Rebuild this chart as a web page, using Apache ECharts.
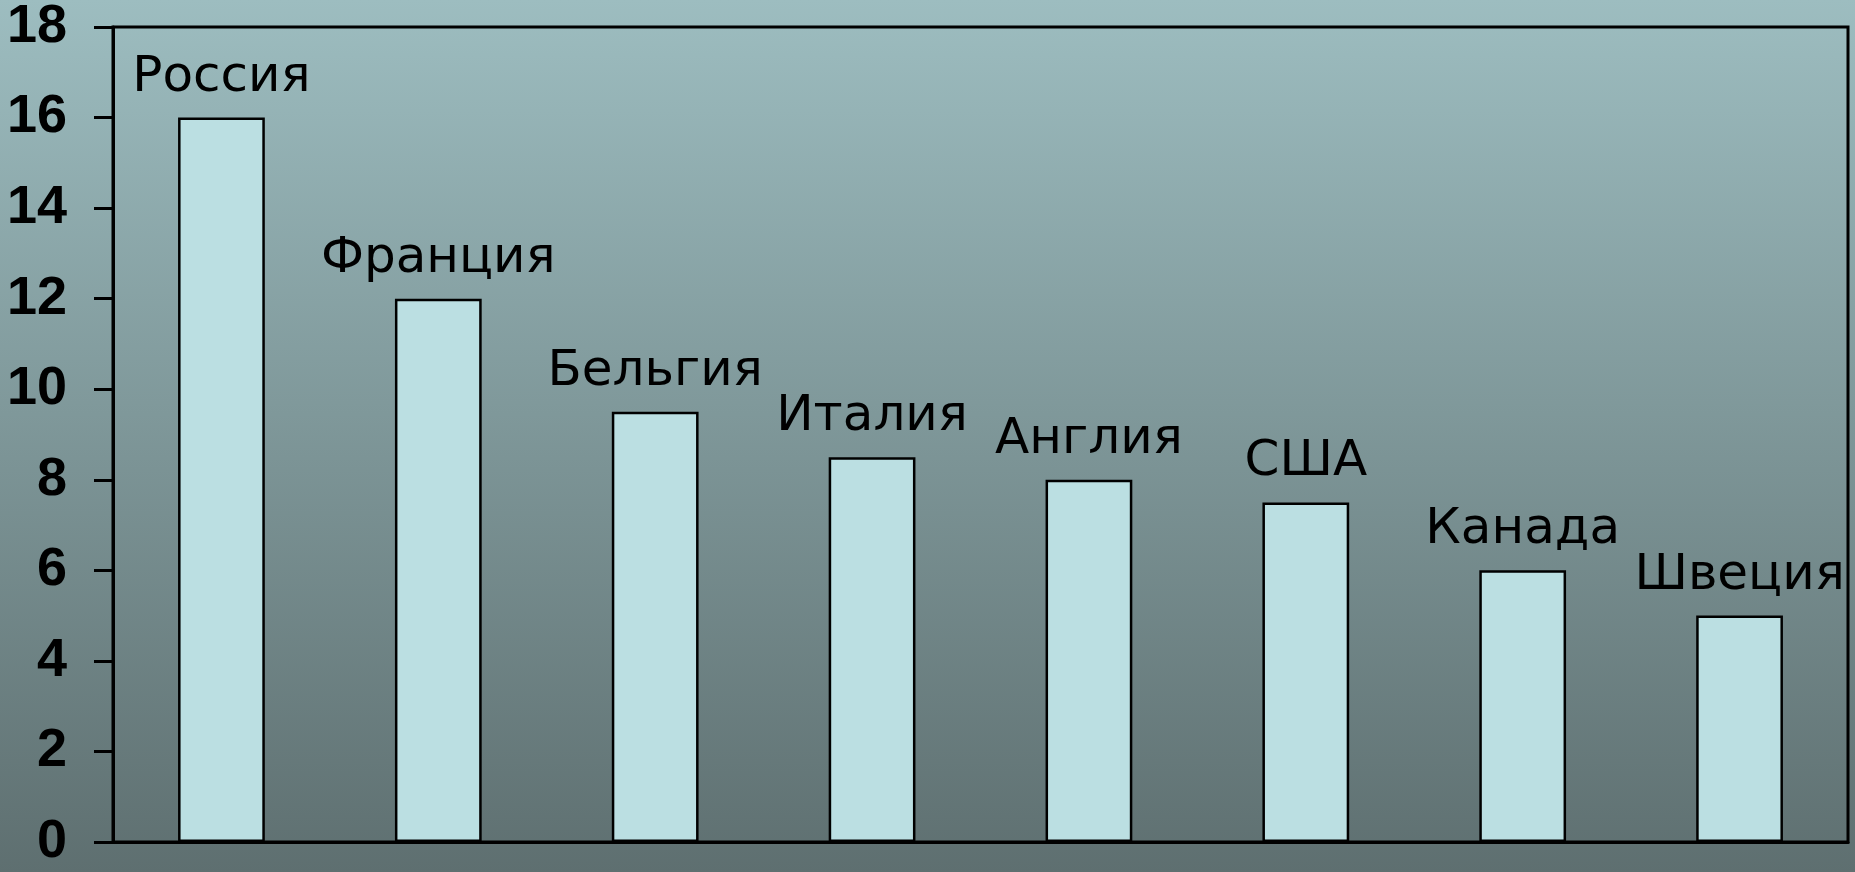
<!DOCTYPE html>
<html>
<head>
<meta charset="utf-8">
<script src="https://cdn.jsdelivr.net/npm/echarts@6/dist/echarts.min.js"></script>
<style>html,body{margin:0;padding:0;}#c{width:1855px;height:872px;}</style>
</head>
<body>
<div id="c"></div>
<script>
const categories = ['Россия','Франция','Бельгия','Италия','Англия','США','Канада','Швеция'];
const values = [16, 12, 9.5, 8.5, 8, 7.5, 6, 5];
const yTicks = { min: 0, max: 18, interval: 2 };

const chart = echarts.init(document.getElementById('c'));
chart.setOption({
  animation: false,
  backgroundColor: {
    type: 'linear', x: 0, y: 0, x2: 0, y2: 1,
    colorStops: [{offset: 0, color: '#9dbdc0'}, {offset: 1, color: '#5e6f70'}]
  },
  grid: { left: 113, right: 7, top: 24, bottom: 30, show: true, borderColor: '#000', borderWidth: 3, containLabel: false },
  xAxis: {
    type: 'category', data: categories,
    axisLine: { lineStyle: { color: '#000', width: 3 } },
    axisTick: { show: false },
    axisLabel: { show: false }
  },
  yAxis: {
    type: 'value', min: yTicks.min, max: yTicks.max, interval: yTicks.interval,
    axisLine: { show: true, lineStyle: { color: '#000', width: 3 } },
    axisTick: { show: true, length: 19, lineStyle: { color: '#000', width: 3 } },
    splitLine: { show: false },
    axisLabel: { color: '#000', fontFamily: 'Liberation Sans, Arial', fontWeight: 'bold', fontSize: 54, margin: 46 }
  },
  series: [{
    type: 'bar', data: values, barWidth: '40%',
    itemStyle: { color: '#bbdfe2', borderColor: '#000', borderWidth: 2.5 },
    label: {
      show: true, position: 'top', distance: 15,
      formatter: p => categories[p.dataIndex],
      color: '#000', fontFamily: 'DejaVu Sans', fontSize: 50
    }
  }]
});
</script>
</body>
</html>
